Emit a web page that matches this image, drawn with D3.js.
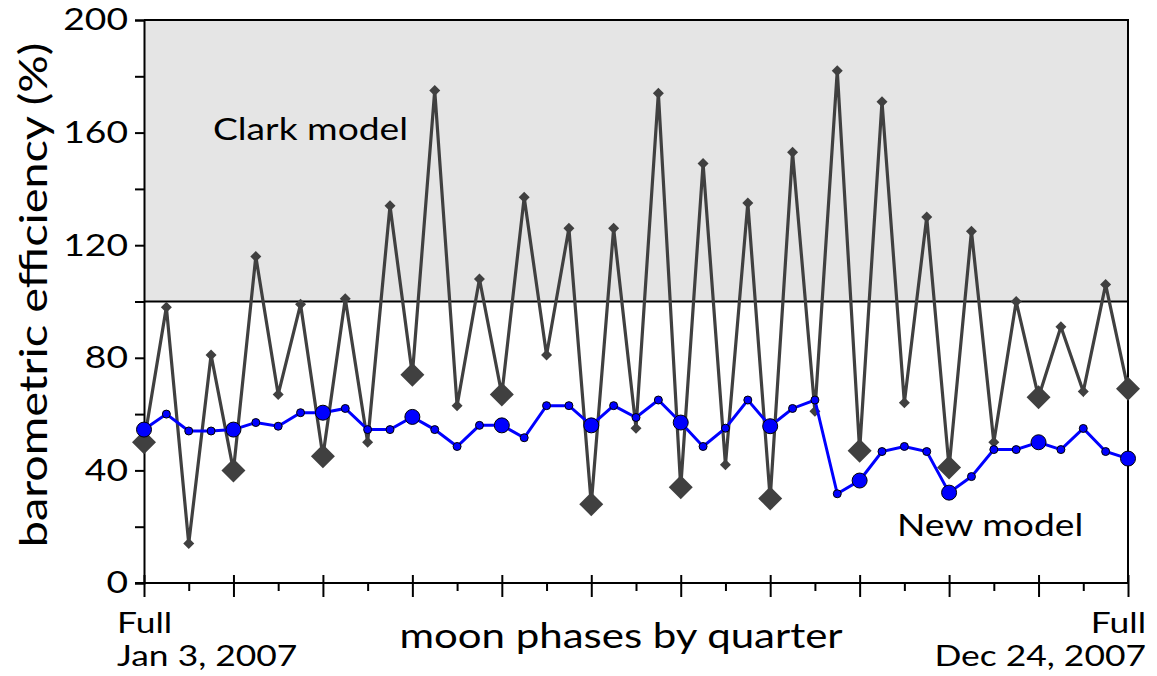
<!DOCTYPE html>
<html>
<head>
<meta charset="utf-8">
<script src="https://cdn.jsdelivr.net/npm/d3@7"></script>
<style>
  body { margin: 0; background: #fff; }
  text { font-family: Lato, "Open Sans", sans-serif; fill: #000; }
</style>
</head>
<body>
<div id="svg-container"></div>
<script>
// quarter index 0 = Full moon Jan 3, 2007 ... 44 = Full moon Dec 24, 2007
const clark = [50, 98, 14, 81, 40, 116, 67, 99, 45, 101, 50, 134, 74, 175, 63, 108,
  67, 137, 81, 126, 28, 126, 55, 174, 34, 149, 42, 135, 30, 153, 61, 182, 47, 171,
  64, 130, 41, 125, 50, 100, 66, 91, 68, 106, 69];
const newModel = [54.5, 60, 54, 54, 54.5, 57, 55.7, 60.5, 60.5, 62, 54.5, 54.5, 59,
  54.5, 48.5, 56, 56, 51.6, 63, 63, 56, 63, 58.8, 65, 57, 48.5, 55, 65, 55.7, 62, 65,
  31.7, 36.4, 46.7, 48.5, 46.7, 32.1, 37.8, 47.4, 47.4, 50, 47.4, 54.9, 46.7, 44.2];
const yTicks = [0, 20, 40, 60, 80, 100, 120, 140, 160, 180, 200];
const yLabels = [0, 40, 80, 120, 160, 200];
const clarkLimit = 100;

const width = 1157, height = 676;
const margin = { top: 20, right: 29, bottom: 93, left: 144 };
const stretch = 1.2; // the original lettering is a bit wide

const svg = d3.select("#svg-container").append("svg")
  .attr("width", width).attr("height", height);

const x = d3.scaleLinear().domain([0, clark.length - 1]).range([margin.left, width - margin.right]);
const y = d3.scaleLinear().domain([0, 200]).range([height - margin.bottom, margin.top]);

const isFull = (i) => i % 4 === 0;

// helper for the wide labels
function label(px, py, str, size, anchor = "start", rot = 0) {
  return svg.append("text")
    .attr("transform", `translate(${px},${py}) rotate(${rot}) scale(${stretch},1)`)
    .attr("text-anchor", anchor)
    .style("font-size", size + "px")
    .text(str);
}

// shaded Clark region
svg.append("rect")
  .attr("x", x(0)).attr("y", y(200))
  .attr("width", x(44) - x(0)).attr("height", y(clarkLimit) - y(200))
  .attr("fill", "#e5e5e5");

// frame
svg.append("path")
  .attr("d", `M${x(0)},${y(200)}H${x(44)}V${y(0)}`)
  .attr("fill", "none").attr("stroke", "#000").attr("stroke-width", 2);
svg.append("line")
  .attr("x1", x(0)).attr("x2", x(44))
  .attr("y1", y(clarkLimit)).attr("y2", y(clarkLimit))
  .attr("stroke", "#000").attr("stroke-width", 2);

// y axis
const yAxis = svg.append("g")
  .attr("transform", `translate(${x(0)},0)`)
  .call(d3.axisLeft(y).tickValues(yTicks).tickSize(9)
    .tickFormat((d) => (yLabels.includes(d) ? d : "")));
yAxis.select(".domain").attr("stroke-width", 2);
yAxis.selectAll(".tick line").attr("stroke-width", 2);
yAxis.selectAll("text")
  .attr("x", null)
  .attr("transform", `translate(-16,0) scale(${stretch},1)`)
  .style("font-size", "31px").attr("fill", "#000");

// x axis
const xAxis = svg.append("g")
  .attr("transform", `translate(0,${y(0)})`)
  .call(d3.axisBottom(x).tickValues(d3.range(0, 45, 2)).tickSize(8).tickFormat(""));
xAxis.select(".domain").attr("d", `M${x(0) - 9},0H${x(44)}`).attr("stroke-width", 2);
xAxis.selectAll(".tick line").attr("stroke-width", 2)
  .attr("y1", (d) => (isFull(d) ? -8 : 0))
  .attr("y2", (d) => (isFull(d) ? 14 : 8));

// Clark model series
const clarkLine = d3.line().x((d, i) => x(i)).y((d) => y(d));
svg.append("path").datum(clark)
  .attr("d", clarkLine)
  .attr("fill", "none").attr("stroke", "#404040").attr("stroke-width", 3.2);
svg.selectAll(".clark-pt").data(clark).enter().append("path")
  .attr("class", "clark-pt")
  .attr("transform", (d, i) => `translate(${x(i)},${y(d)})`)
  .attr("d", (d, i) => {
    const r = isFull(i) ? 12 : 5.5;
    return `M0,${-r}L${r},0L0,${r}L${-r},0Z`;
  })
  .attr("fill", "#404040");

// New model series
const newLine = d3.line().x((d, i) => x(i)).y((d) => y(d));
svg.append("path").datum(newModel)
  .attr("d", newLine)
  .attr("fill", "none").attr("stroke", "#0000ff").attr("stroke-width", 3);
svg.selectAll(".new-pt").data(newModel).enter().append("circle")
  .attr("class", "new-pt")
  .attr("cx", (d, i) => x(i)).attr("cy", (d) => y(d))
  .attr("r", (d, i) => (isFull(i) ? 7.5 : 4))
  .attr("fill", "#0000ff").attr("stroke", "#000").attr("stroke-width", 1);

// labels
label(213, 140, "Clark model", 31);
label(897, 536, "New model", 31);
label(621, 648, "moon phases by quarter", 35, "middle");
label(117, 633, "Full", 29.5);
label(117, 666, "Jan 3, 2007", 29.5);
label(1146, 633, "Full", 29.5, "end");
label(1146, 666, "Dec 24, 2007", 29.5, "end");
label(47, 295, "barometric efficiency (%)", 39, "middle", -90);
</script>
</body>
</html>
